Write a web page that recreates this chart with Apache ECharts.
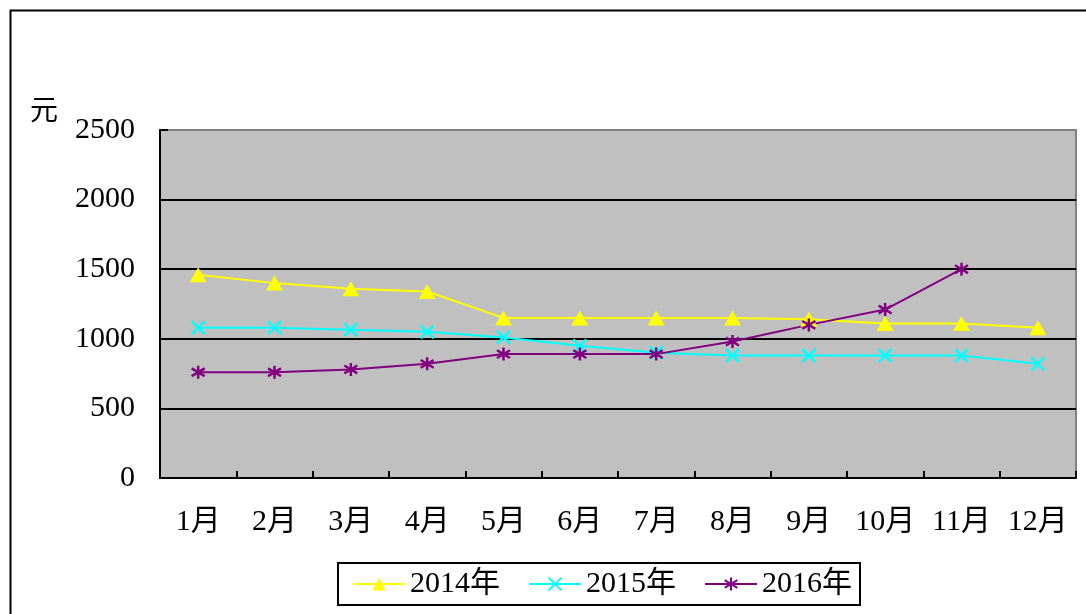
<!DOCTYPE html>
<html><head><meta charset="utf-8">
<script src="https://cdn.jsdelivr.net/npm/echarts@6/dist/echarts.min.js"></script>
<style>html,body{margin:0;padding:0;background:#fff}#c{width:1086px;height:614px}</style>
</head><body><div id="c"></div>
<script>
const categories = ['1月','2月','3月','4月','5月','6月','7月','8月','9月','10月','11月','12月'];
const s2014 = [1460,1400,1360,1340,1150,1150,1150,1150,1140,1110,1110,1080];
const s2015 = [1080,1080,1065,1050,1010,950,900,880,880,880,880,820];
const s2016 = [760,760,780,820,890,890,890,980,1100,1210,1500,null];
const yTicks = [0,500,1000,1500,2000,2500];
const seriesNames = ['2014年','2015年','2016年'];

const FONT = '"Liberation Serif","Noto Sans CJK SC",serif';
const FS = 30;
const crossPath = 'path://M0,0L10,10M10,0L0,10';
const starPath = 'path://M5,0L5,10M0,2L10,8M10,2L0,8';

const chart = echarts.init(document.getElementById('c'), null, {renderer:'canvas'});
chart.setOption({
  animation:false,
  backgroundColor:'#fff',
  textStyle:{fontFamily:FONT},
  graphic:[
    {type:'rect', left:8, top:8, shape:{x:0,y:0,width:1200,height:800}, style:{fill:'none', stroke:'#000', lineWidth:2}, z:-1},
    {type:'text', left:30, top:99, style:{text:'元', font:'28px '+FONT, fill:'#000'}}
  ],
  grid:{left:160, top:130, right:10, bottom:136, show:true, backgroundColor:'#c0c0c0', borderColor:'#808080', borderWidth:2},
  legend:{
    data:seriesNames, left:338, top:563, orient:'horizontal',
    borderColor:'#000', borderWidth:2, padding:[6,8,6,14], itemGap:28,
    itemWidth:52, itemHeight:16,
    textStyle:{fontFamily:FONT, fontSize:FS, color:'#000'}
  },
  xAxis:{
    type:'category', data:categories, boundaryGap:true,
    axisLine:{lineStyle:{color:'#000', width:2}},
    axisTick:{show:true, inside:true, length:7, lineStyle:{color:'#000', width:2}},
    axisLabel:{fontFamily:FONT, fontSize:FS, color:'#000', margin:29, interval:0},
    splitLine:{show:false}
  },
  yAxis:{
    type:'value', min:yTicks[0], max:yTicks[yTicks.length-1], interval:500,
    axisLine:{show:true, lineStyle:{color:'#000', width:2}},
    axisTick:{show:true, inside:true, length:8, lineStyle:{color:'#000', width:2}},
    axisLabel:{fontFamily:FONT, fontSize:FS, color:'#000', margin:25, padding:[7,0,0,0], formatter:function(v){return String(v);}},
    splitLine:{show:true, lineStyle:{color:['#000','#000','#000','#000','#000','#808080'], width:2}}
  },
  series:[
    {name:seriesNames[0], type:'line', data:s2014, symbol:'triangle', symbolSize:[17,15],
     lineStyle:{color:'#ffff00', width:2}, itemStyle:{color:'#ffff00'}},
    {name:seriesNames[1], type:'line', data:s2015, symbol:crossPath, symbolSize:13,
     lineStyle:{color:'#00ffff', width:2}, itemStyle:{color:'rgba(0,0,0,0)', borderColor:'#00ffff', borderWidth:2.5}},
    {name:seriesNames[2], type:'line', data:s2016, symbol:starPath, symbolSize:13,
     lineStyle:{color:'#800080', width:2}, itemStyle:{color:'rgba(0,0,0,0)', borderColor:'#800080', borderWidth:2.5}}
  ]
});
</script></body></html>
